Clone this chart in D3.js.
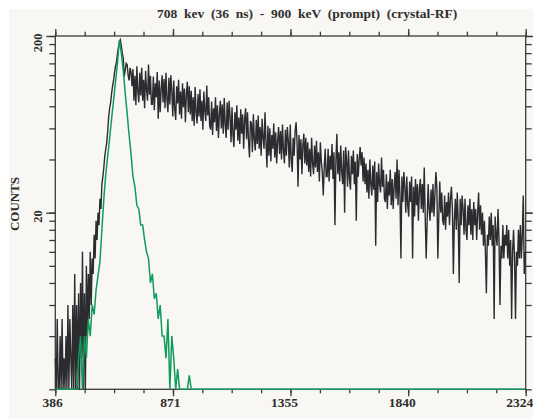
<!DOCTYPE html>
<meta charset="utf-8">
<script src="https://d3js.org/d3.v7.min.js"></script>
<style>
  body { margin: 0; background: #fff; }
  text { font-family: "Liberation Serif", "Times New Roman", serif; font-weight: bold; fill: #2e2e2e; }
</style>
<div id="viz"></div>
<script>
// spectra start at channel 386
var channelStart = 386;

// 708 keV gate (black), 4-channel bins
var delayedBin = 4;
var delayedCounts = [
  3, 0, 5, 2, 0, 4, 1, 5, 0, 3, 2, 4, 0, 6, 1, 5, 3, 0, 6, 2,
  9, 1, 6, 2, 7, 0, 8, 3, 12, 2, 7, 2, 10, 4, 9, 5, 12, 6, 11, 9,
  15, 11, 18, 14, 20, 17, 24, 21, 29, 32, 36, 42, 46, 50, 58, 70, 78, 84, 95, 104,
  112, 124, 135, 142, 158, 172, 185, 190, 176, 160, 150, 118, 128, 140, 138, 120, 112, 132, 125, 104,
  130, 86, 119, 81, 135, 97, 84, 124, 92, 132, 86, 113, 78, 127, 99, 86, 138, 93, 119, 82,
  82, 118, 76, 108, 90, 125, 68, 112, 74, 100, 120, 84, 114, 78, 124, 88, 74, 116, 82, 120,
  99, 70, 112, 77, 67, 104, 83, 113, 72, 97, 68, 108, 79, 101, 65, 94, 110, 74, 104, 72,
  98, 66, 90, 62, 103, 74, 64, 94, 70, 100, 66, 86, 59, 97, 75, 66, 105, 71, 90, 62,
  59, 85, 55, 78, 65, 90, 58, 81, 53, 72, 86, 60, 82, 56, 89, 63, 53, 84, 59, 86,
  70, 50, 79, 55, 47, 74, 59, 81, 51, 69, 49, 77, 56, 72, 46, 67, 78, 52, 74, 51,
  41, 66, 64, 44, 72, 52, 45, 67, 49, 71, 46, 61, 42, 68, 53, 46, 74, 50, 36, 62,
  42, 60, 39, 55, 46, 64, 41, 57, 38, 51, 61, 43, 58, 40, 63, 45, 38, 59, 42, 61,
  51, 36, 63, 40, 34, 53, 42, 58, 65, 50, 28, 55, 40, 52, 33, 48, 56, 38, 53, 37,
  50, 34, 46, 32, 53, 38, 33, 48, 36, 51, 34, 44, 30, 50, 39, 34, 25, 36, 46, 32,
  32, 46, 30, 42, 35, 49, 31, 44, 17, 39, 56, 33, 44, 30, 48, 34, 29, 45, 20, 47,
  40, 28, 45, 31, 27, 42, 33, 45, 29, 39, 18, 43, 32, 40, 47, 37, 44, 30, 41, 29,
  38, 26, 35, 24, 40, 29, 25, 37, 27, 39, 13, 34, 23, 38, 29, 26, 41, 28, 35, 24,
  23, 33, 21, 30, 25, 35, 22, 31, 21, 28, 34, 24, 40, 22, 35, 25, 11, 32, 23, 34,
  28, 20, 32, 22, 19, 30, 23, 32, 11, 28, 19, 31, 22, 29, 18, 27, 31, 21, 29, 20,
  36, 19, 11, 18, 29, 21, 18, 27, 20, 29, 19, 25, 34, 28, 11, 19, 30, 20, 26, 18,
  17, 25, 16, 23, 19, 26, 17, 24, 28, 21, 9, 18, 24, 16, 26, 18, 8, 24, 17, 25,
  21, 15, 24, 16, 14, 22, 17, 24, 15, 21, 14, 23, 17, 21, 14, 20, 26, 16, 22, 15,
  20, 13, 18, 12, 7, 15, 13, 19, 14, 20, 13, 17, 5, 19, 15, 13, 21, 14, 6, 13,
  11, 17, 11, 15, 13, 17, 11, 16, 10, 14, 5, 12, 16, 11, 5, 12, 10, 16, 11, 17,
  11, 15, 25, 9, 12
];

// 900 keV prompt (green), 8-channel bins
var promptBin = 8;
var promptCounts = [
  0, 0, 0, 0, 0, 0, 0, 2, 0, 0,
  2, 0, 3, 4, 2, 4, 3, 5, 4, 6,
  5.3, 7.3, 8.8, 10.6, 16, 24, 33, 42, 53, 68,
  86, 110, 140, 190, 160, 127, 95, 73, 55, 43,
  32, 28, 22, 21, 17, 17, 14, 12, 11, 8,
  9, 6.5, 7, 5, 6, 4, 4, 3, 5, 2,
  4, 3, 0, 2.6, 0, 0, 0, 0, 0, 2.4,
  0, 0, 0, 0, 0, 0, 0, 0, 0, 0,
  0, 0, 0, 0, 0, 0, 0, 0, 0, 0,
  0, 0, 0, 0, 0, 0, 0, 0, 0, 0,
  0, 0, 0, 0, 0, 0, 0, 0, 0, 0,
  0, 0, 0, 0, 0, 0, 0, 0, 0, 0,
  0, 0, 0, 0, 0, 0, 0, 0, 0, 0,
  0, 0, 0, 0, 0, 0, 0, 0, 0, 0,
  0, 0, 0, 0, 0, 0, 0, 0, 0, 0,
  0, 0, 0, 0, 0, 0, 0, 0, 0, 0,
  0, 0, 0, 0, 0, 0, 0, 0, 0, 0,
  0, 0, 0, 0, 0, 0, 0, 0, 0, 0,
  0, 0, 0, 0, 0, 0, 0, 0, 0, 0,
  0, 0, 0, 0, 0, 0, 0, 0, 0, 0,
  0, 0, 0, 0, 0, 0, 0, 0, 0, 0,
  0, 0, 0, 0, 0, 0, 0, 0, 0, 0,
  0, 0, 0, 0, 0, 0, 0, 0, 0, 0,
  0, 0, 0, 0, 0, 0, 0, 0, 0, 0,
  0, 0, 0
];

var xTicks = [386, 871, 1355, 1840, 2324];
var yTicks = [2, 4, 6, 8, 10, 12, 14, 16, 18, 20, 40, 60, 80, 100, 120, 140, 160, 180, 200];
var yTicksMajor = [20, 200];
var title = "708  kev  (36  ns)  -  900  keV  (prompt)  (crystal-RF)";
var yLabel = "COUNTS";

var W = 533, H = 419;
var margin = {top: 36, right: 7.3, bottom: 29.7, left: 55.3},
    width = W - margin.left - margin.right,
    height = H - margin.top - margin.bottom;

var svg = d3.select("#viz")
  .append("svg")
    .attr("width", W)
    .attr("height", H);

// page + panel background
svg.append("rect").attr("width", W).attr("height", H).attr("fill", "#ffffff");
svg.append("rect")
  .attr("x", 9).attr("y", 9)
  .attr("width", W - 9).attr("height", H - 9)
  .attr("fill", "#f8f7f4");

var g = svg.append("g")
  .attr("transform", "translate(" + margin.left + "," + margin.top + ")");

var x = d3.scaleLinear()
  .domain([xTicks[0], xTicks[xTicks.length - 1]])
  .range([0, width]);

var y = d3.scaleLog()
  .domain([2, 200])
  .range([height, 0]);

// minor x ticks: 4 per labelled interval
var xMinor = d3.range(0, 17).map(function(k) { return xTicks[0] + k * (xTicks[4] - xTicks[0]) / 16; });

var axisColor = "#3a3a3a";

function styleAxis(sel) {
  sel.select(".domain").remove();
  sel.selectAll("line").attr("stroke", axisColor).attr("stroke-width", 1.3);
}

// bottom
g.append("g")
  .attr("transform", "translate(0," + height + ")")
  .call(d3.axisBottom(x).tickValues(xMinor).tickSize(4).tickFormat(""))
  .call(styleAxis);
var xAxis = g.append("g")
  .attr("transform", "translate(0," + height + ")")
  .call(d3.axisBottom(x).tickValues(xTicks).tickSize(7).tickFormat(d3.format("d")))
  .call(styleAxis);
xAxis.selectAll("text")
  .attr("y", 17.7)
  .attr("dy", null)
  .attr("dx", 7)
  .attr("text-anchor", "end")
  .style("font-size", "13.5px");

// top
g.append("g")
  .call(d3.axisTop(x).tickValues(xMinor).tickSize(4.3).tickFormat(""))
  .call(styleAxis);
g.append("g")
  .call(d3.axisTop(x).tickValues(xTicks).tickSize(7).tickFormat(""))
  .call(styleAxis);

// left
g.append("g")
  .call(d3.axisLeft(y).tickValues(yTicks).tickSize(6).tickFormat(""))
  .call(styleAxis);
var yAxis = g.append("g")
  .call(d3.axisLeft(y).tickValues(yTicksMajor).tickSize(9).tickFormat(d3.format("d")))
  .call(styleAxis);
yAxis.selectAll("text")
  .attr("transform", "rotate(-90)")
  .attr("x", 3)
  .attr("y", -13.6)
  .attr("dy", null)
  .attr("text-anchor", "end")
  .style("font-size", "12.5px");

// right
g.append("g")
  .attr("transform", "translate(" + width + ",0)")
  .call(d3.axisRight(y).tickValues(yTicks).tickSize(6).tickFormat(""))
  .call(styleAxis);
g.append("g")
  .attr("transform", "translate(" + width + ",0)")
  .call(d3.axisRight(y).tickValues(yTicksMajor).tickSize(8).tickFormat(""))
  .call(styleAxis);

// frame
g.append("rect")
  .attr("width", width)
  .attr("height", height)
  .attr("fill", "none")
  .attr("stroke", axisColor)
  .attr("stroke-width", 1.3);

// data
g.append("clipPath").attr("id", "clip")
  .append("rect").attr("x", -1).attr("y", -1).attr("width", width + 2).attr("height", height + 2);

function makeLine(bin) {
  return d3.line()
    .x(function(d, i) { return x(channelStart + i * bin); })
    .y(function(d) { return y(Math.max(d, 2)); });
}

g.append("path")
  .datum(delayedCounts)
  .attr("clip-path", "url(#clip)")
  .attr("fill", "none")
  .attr("stroke", "#2c2c30")
  .attr("stroke-width", 1.4)
  .attr("d", makeLine(delayedBin));

g.append("path")
  .datum(promptCounts)
  .attr("clip-path", "url(#clip)")
  .attr("fill", "none")
  .attr("stroke", "#0e9b5b")
  .attr("stroke-width", 1.5)
  .attr("d", makeLine(promptBin));

// title + y label
svg.append("text")
  .attr("x", 157)
  .attr("y", 18)
  .style("font-size", "13.5px")
  .style("white-space", "pre")
  .text(title);

svg.append("text")
  .attr("transform", "translate(19,204) rotate(-90)")
  .attr("text-anchor", "middle")
  .style("font-size", "13px")
  .text(yLabel);
</script>
